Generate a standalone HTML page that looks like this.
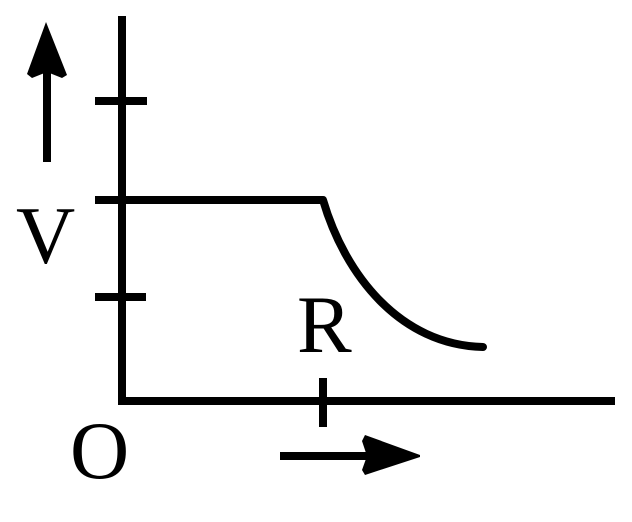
<!DOCTYPE html>
<html><head><style>body{margin:0;background:#fff}
text{font-family:"Liberation Serif","Times New Roman",serif;font-size:82px;fill:#000}</style></head><body>
<svg width="632" height="517" viewBox="0 0 632 517" xmlns="http://www.w3.org/2000/svg">
<g stroke="#000" stroke-width="8" fill="none">
<line x1="122" y1="16" x2="122" y2="404"/>
<line x1="118" y1="401" x2="615" y2="401"/>
<line x1="95" y1="101" x2="147" y2="101"/>
<line x1="95" y1="200" x2="122" y2="200"/>
<line x1="95" y1="297" x2="146" y2="297"/>
<line x1="323" y1="378" x2="323" y2="427"/>
<path d="M122 200 L323 200 C345 275 400 345 483 347" stroke-linecap="round" stroke-linejoin="round"/>
<line x1="47" y1="162" x2="47" y2="70"/>
<line x1="280" y1="456" x2="372" y2="456"/>
</g>
<path d="M46 22 L67 75 L62 78 L47 72 L32 78 L27 74 Z" fill="#000"/>
<path d="M365 435 L420 455 L420 457 L365 475 L362 470 L367 456 L362 441 Z" fill="#000"/>
<text x="16" y="263">V</text>
<text x="297" y="352">R</text>
<text x="70" y="478">O</text>
</svg>
</body></html>
